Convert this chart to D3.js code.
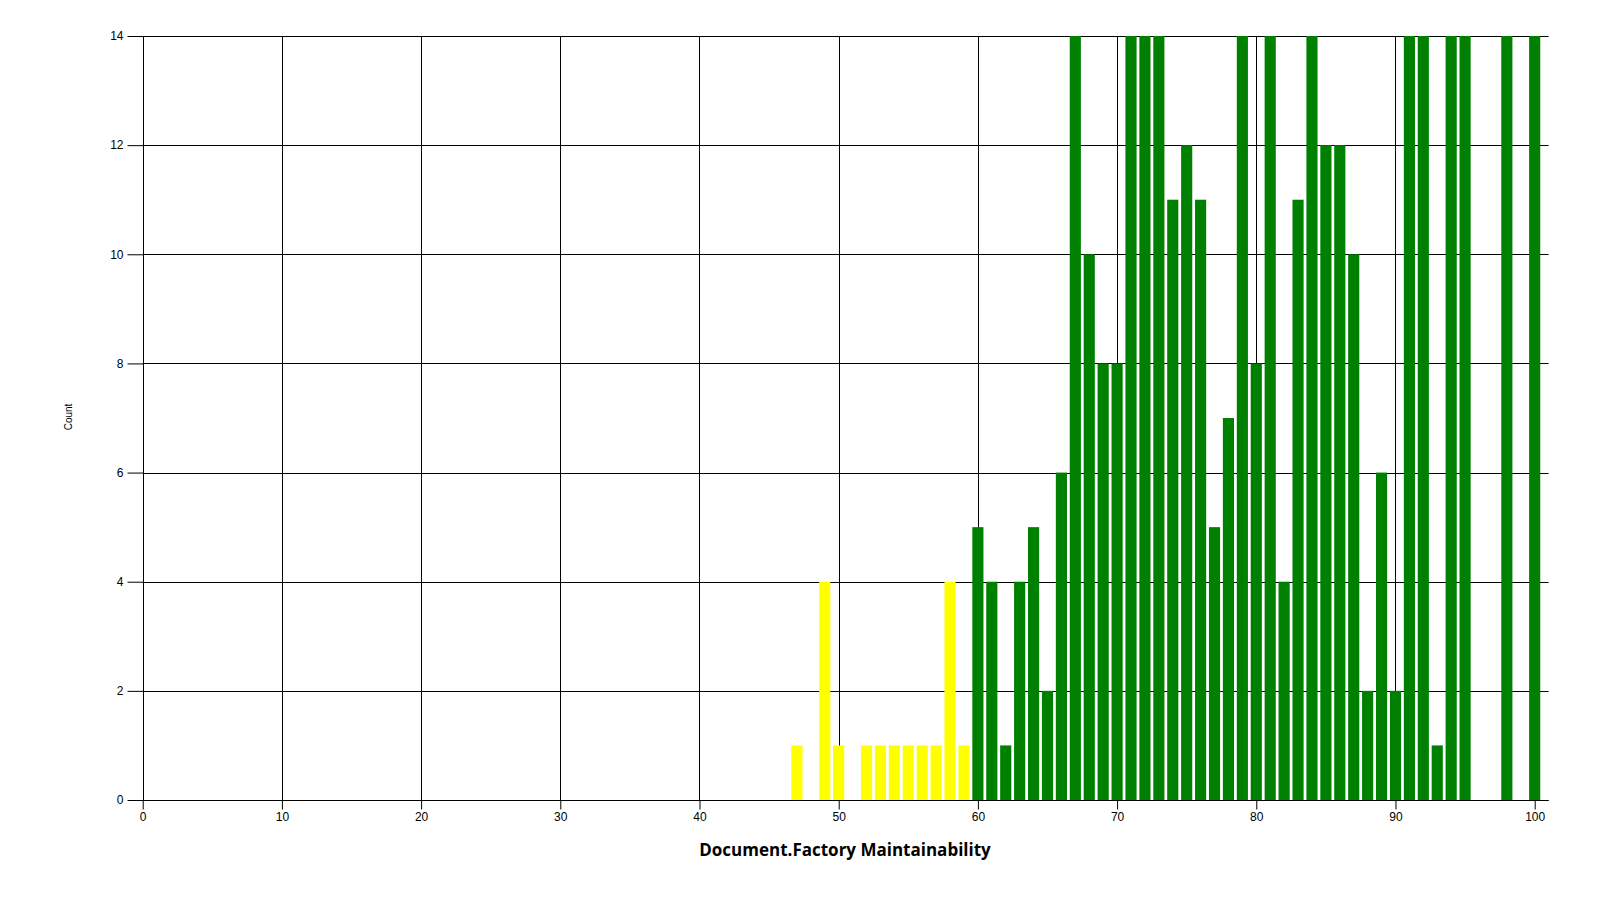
<!DOCTYPE html>
<html><head><meta charset="utf-8">
<script src="https://cdn.jsdelivr.net/npm/d3@7"></script>
<style>body{margin:0;background:#fff;}svg{display:block;}</style>
</head><body>
<svg id="chart" width="1600" height="900"></svg>
<script>
const bins = [47,48,49,50,51,52,53,54,55,56,57,58,59,60,61,62,63,64,65,66,67,68,69,70,71,72,73,74,75,76,77,78,79,80,81,82,83,84,85,86,87,88,89,90,91,92,93,94,95,96,97,98,99,100];
const counts = [1,0,4,1,0,1,1,1,1,1,1,4,1,5,4,1,4,5,2,6,14,10,8,8,14,14,14,11,12,11,5,7,14,8,14,4,11,14,12,12,10,2,6,2,14,14,1,14,14,0,0,14,0,14];
const threshold = 60;
const lowColor = "#ffff00", highColor = "#008000";
const xTicks = [0,10,20,30,40,50,60,70,80,90,100];
const yTicks = [0,2,4,6,8,10,12,14];
const xTitle = "Document.Factory Maintainability";
const yTitle = "Count";

(function(){
const svg = d3.select("#chart");
const pL = 142.7, pR = 1548.6, pT = 36, pB = 800;
const x = d3.scaleLinear().domain([0, 101]).range([pL, pR]);
const y = d3.scaleLinear().domain([0, 14]).range([pB, pT]);
const unit = x(1) - x(0);
const bw = unit * 0.8;

// grid
svg.append("g").selectAll("line").data(yTicks).join("line")
  .attr("x1", pL).attr("x2", pR)
  .attr("y1", d => Math.round(y(d)) + 0.5).attr("y2", d => Math.round(y(d)) + 0.5)
  .attr("stroke", "#000").attr("stroke-width", 1);
svg.append("g").selectAll("line").data(xTicks).join("line")
  .attr("x1", d => Math.round(x(d)) + 0.5).attr("x2", d => Math.round(x(d)) + 0.5)
  .attr("y1", pT).attr("y2", pB)
  .attr("stroke", "#000").attr("stroke-width", 1);

// bars
const data = bins.map((b, i) => ({b, c: counts[i]}));
svg.append("g").selectAll("rect").data(data.filter(d => d.c > 0)).join("rect")
  .attr("x", d => x(d.b) - bw / 2)
  .attr("width", bw)
  .attr("y", d => y(d.c))
  .attr("height", d => y(0) - y(d.c))
  .attr("fill", d => d.b < threshold ? lowColor : highColor);

// axes
const xAxis = d3.axisBottom(x).tickValues(xTicks).tickSize(9).tickPadding(3).tickFormat(d3.format("d"));
const gx = svg.append("g").attr("transform", `translate(0,${Math.round(pB)+0.5})`).call(xAxis);
gx.select(".domain").attr("d", `M${pL},0H${pR}`).attr("stroke", "#000");
gx.selectAll(".tick line").attr("stroke", "#000");
gx.selectAll("text").attr("font-family", "'Liberation Sans', Arial, sans-serif").attr("font-size", 12).attr("fill", "#000");

const yAxis = d3.axisLeft(y).tickValues(yTicks).tickSize(16).tickPadding(4).tickFormat(d3.format("d"));
const gy = svg.append("g").attr("transform", `translate(${Math.round(pL)+0.5},0)`).call(yAxis);
gy.select(".domain").attr("d", `M0,${pT}V${pB}`).attr("stroke", "#000");
gy.selectAll(".tick line").attr("stroke", "#000");
gy.selectAll("text").attr("font-family", "'Liberation Sans', Arial, sans-serif").attr("font-size", 12).attr("fill", "#000");

// titles
svg.append("text").attr("x", 845).attr("y", 856).attr("text-anchor", "middle")
  .attr("font-family", "'Open Sans', sans-serif").attr("font-weight", "bold").attr("font-size", 17)
  .attr("fill", "#000").text(xTitle);
svg.append("text").attr("transform", "translate(72,417) rotate(-90)").attr("text-anchor", "middle")
  .attr("font-family", "'Liberation Sans', Arial, sans-serif").attr("font-size", 10)
  .attr("fill", "#000").text(yTitle);
})();
</script>
</body></html>
